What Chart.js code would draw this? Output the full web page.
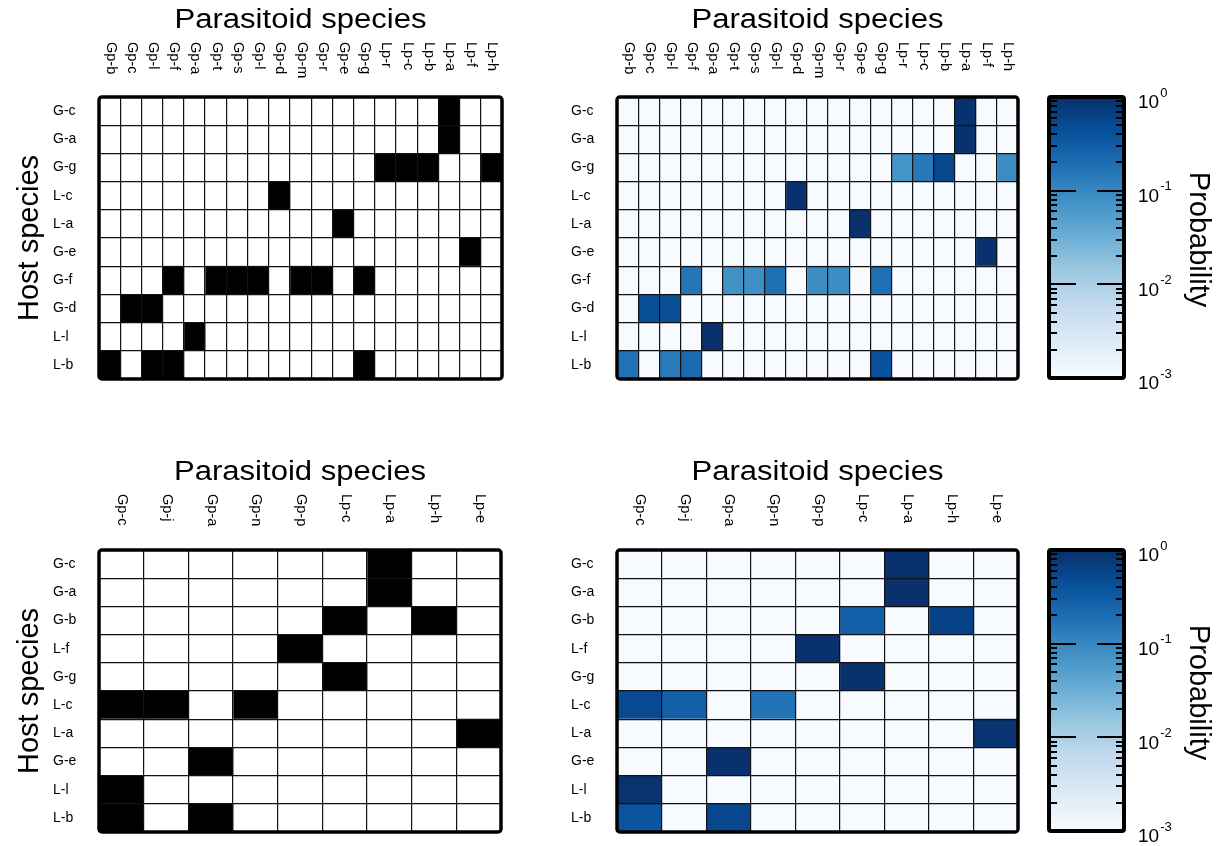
<!DOCTYPE html>
<html>
<head>
<meta charset="utf-8">
<script src="https://cdn.jsdelivr.net/npm/chart.js@4.4.1/dist/chart.umd.min.js"></script>
<style>
html, body { margin: 0; padding: 0; background: #fff; }
#wrap { position: relative; width: 1228px; height: 846px; overflow: hidden; }
#wrap canvas { position: absolute; left: 0; top: 0; }
</style>
</head>
<body>
<div id="wrap">
  <canvas id="tl" width="1228" height="846"></canvas>
  <canvas id="tr" width="1228" height="846"></canvas>
  <canvas id="bl" width="1228" height="846"></canvas>
  <canvas id="br" width="1228" height="846"></canvas>
  <canvas id="cbt" width="1228" height="846"></canvas>
  <canvas id="cbb" width="1228" height="846"></canvas>
</div>
<script>
// ---------- DATA ----------
const topCols = ['Gp-b','Gp-c','Gp-l','Gp-f','Gp-a','Gp-t','Gp-s','Gp-l','Gp-d','Gp-m','Gp-r','Gp-e','Gp-g','Lp-r','Lp-c','Lp-b','Lp-a','Lp-f','Lp-h'];
const topRows = ['G-c','G-a','G-g','L-c','L-a','G-e','G-f','G-d','L-l','L-b'];
const topObserved = [
  [0,0,0,0,0,0,0,0,0,0,0,0,0,0,0,0,1,0,0],
  [0,0,0,0,0,0,0,0,0,0,0,0,0,0,0,0,1,0,0],
  [0,0,0,0,0,0,0,0,0,0,0,0,0,1,1,1,0,0,1],
  [0,0,0,0,0,0,0,0,1,0,0,0,0,0,0,0,0,0,0],
  [0,0,0,0,0,0,0,0,0,0,0,1,0,0,0,0,0,0,0],
  [0,0,0,0,0,0,0,0,0,0,0,0,0,0,0,0,0,1,0],
  [0,0,0,1,0,1,1,1,0,1,1,0,1,0,0,0,0,0,0],
  [0,1,1,0,0,0,0,0,0,0,0,0,0,0,0,0,0,0,0],
  [0,0,0,0,1,0,0,0,0,0,0,0,0,0,0,0,0,0,0],
  [1,0,1,1,0,0,0,0,0,0,0,0,1,0,0,0,0,0,0]
];
const topProb = [
  [0,0,0,0,0,0,0,0,0,0,0,0,0,0,0,0,0.95,0,0],
  [0,0,0,0,0,0,0,0,0,0,0,0,0,0,0,0,0.95,0,0],
  [0,0,0,0,0,0,0,0,0,0,0,0,0,0.07,0.15,0.55,0,0,0.085],
  [0,0,0,0,0,0,0,0,0.97,0,0,0,0,0,0,0,0,0,0],
  [0,0,0,0,0,0,0,0,0,0,0,0.97,0,0,0,0,0,0,0],
  [0,0,0,0,0,0,0,0,0,0,0,0,0,0,0,0,0,0.97,0],
  [0,0,0,0.16,0,0.075,0.08,0.19,0,0.085,0.085,0,0.19,0,0,0,0,0,0],
  [0,0.45,0.45,0,0,0,0,0,0,0,0,0,0,0,0,0,0,0,0],
  [0,0,0,0,0.97,0,0,0,0,0,0,0,0,0,0,0,0,0,0],
  [0.18,0,0.14,0.22,0,0,0,0,0,0,0,0,0.42,0,0,0,0,0,0]
];
const botCols = ['Gp-c','Gp-j','Gp-a','Gp-n','Gp-p','Lp-c','Lp-a','Lp-h','Lp-e'];
const botRows = ['G-c','G-a','G-b','L-f','G-g','L-c','L-a','G-e','L-l','L-b'];
const botObserved = [
  [0,0,0,0,0,0,1,0,0],
  [0,0,0,0,0,0,1,0,0],
  [0,0,0,0,0,1,0,1,0],
  [0,0,0,0,1,0,0,0,0],
  [0,0,0,0,0,1,0,0,0],
  [1,1,0,1,0,0,0,0,0],
  [0,0,0,0,0,0,0,0,1],
  [0,0,1,0,0,0,0,0,0],
  [1,0,0,0,0,0,0,0,0],
  [1,0,1,0,0,0,0,0,0]
];
const botProb = [
  [0,0,0,0,0,0,0.97,0,0],
  [0,0,0,0,0,0,0.97,0,0],
  [0,0,0,0,0,0.28,0,0.62,0],
  [0,0,0,0,0.97,0,0,0,0],
  [0,0,0,0,0,0.95,0,0,0],
  [0.5,0.28,0,0.17,0,0,0,0,0],
  [0,0,0,0,0,0,0,0,0.9],
  [0,0,0.97,0,0,0,0,0,0],
  [0.92,0,0,0,0,0,0,0,0],
  [0.4,0,0.55,0,0,0,0,0,0]
];
const cbExponents = [0, -1, -2, -3];
const cbMin = 0.001, cbMax = 1;
const titleX = 'Parasitoid species';
const titleY = 'Host species';
const titleCb = 'Probability';

// ---------- STYLE HELPERS ----------
const FONT = "'Liberation Sans', Arial, Helvetica, sans-serif";
Chart.defaults.font.family = FONT;
const BLUES = ['#f7fbff','#deebf7','#c6dbef','#9ecae1','#6baed6','#4292c6','#2171b5','#08519c','#08306b'];
function hex2rgb(h){ return [parseInt(h.slice(1,3),16),parseInt(h.slice(3,5),16),parseInt(h.slice(5,7),16)]; }
function blues(t){
  t = Math.max(0, Math.min(1, t));
  const x = t * 8, i = Math.min(7, Math.floor(x)), f = x - i;
  const a = hex2rgb(BLUES[i]), b = hex2rgb(BLUES[i+1]);
  const c = a.map((v,k)=>Math.round(v + (b[k]-v)*f));
  return `rgb(${c[0]},${c[1]},${c[2]})`;
}
function probColor(p){
  if (!p || p <= cbMin) return blues(0);
  return blues((Math.log10(p) - Math.log10(cbMin)) / (Math.log10(cbMax) - Math.log10(cbMin)));
}
const binColor = v => v ? '#000000' : '#ffffff';

// ---------- PLUGINS ----------
const decor = {
  id: 'decor',
  afterDraw(chart, args, o) {
    const {ctx, chartArea: a, scales: {x}} = chart;
    ctx.save();
    ctx.fillStyle = '#000';
    ctx.font = `14.5px ${FONT}`;
    ctx.textAlign = 'left';
    ctx.textBaseline = 'middle';
    o.cols.forEach((c, i) => {
      const px = x.getPixelForValue(i + 0.5);
      ctx.save();
      ctx.translate(px + 1, o.colTop);
      ctx.rotate(Math.PI / 2);
      ctx.fillText(c, 0, 0);
      ctx.restore();
    });
    ctx.font = `27px ${FONT}`;
    ctx.textAlign = 'center';
    ctx.textBaseline = 'middle';
    ctx.save();
    ctx.translate((a.left + a.right) / 2, o.titleY);
    ctx.scale(1.15, 1);
    ctx.fillText(titleX, 0, 0);
    ctx.restore();
    if (o.yTitle) {
      ctx.font = `29px ${FONT}`;
      ctx.save();
      ctx.translate(o.yTitleX, (a.top + a.bottom) / 2);
      ctx.rotate(-Math.PI / 2);
      ctx.fillText(titleY, 0, 0);
      ctx.restore();
    }
    ctx.lineWidth = 3.5;
    ctx.strokeStyle = '#000';
    ctx.beginPath();
    ctx.roundRect(a.left, a.top, a.right - a.left, a.bottom - a.top, 3);
    ctx.stroke();
    ctx.restore();
  }
};

const cbar = {
  id: 'cbar',
  afterDraw(chart, args, o) {
    const {ctx, chartArea: a, scales: {y}} = chart;
    ctx.save();
    ctx.strokeStyle = '#000';
    ctx.lineWidth = 2;
    const tick = (v, len) => {
      const py = Math.round(y.getPixelForValue(v));
      ctx.beginPath();
      ctx.moveTo(a.left, py); ctx.lineTo(a.left + len, py);
      ctx.moveTo(a.right - len, py); ctx.lineTo(a.right, py);
      ctx.stroke();
    };
    for (let e = cbExponents[cbExponents.length - 1]; e < cbExponents[0]; e++) {
      for (let m = 2; m <= 9; m++) tick(m * Math.pow(10, e), 8);
    }
    cbExponents.forEach(e => { if (e !== 0 && e !== -3) tick(Math.pow(10, e), 27); });
    ctx.lineWidth = 4;
    ctx.beginPath();
    ctx.roundRect(a.left, a.top, a.right - a.left, a.bottom - a.top, 2);
    ctx.stroke();
    ctx.fillStyle = '#000';
    ctx.textAlign = 'left';
    ctx.textBaseline = 'middle';
    cbExponents.forEach(e => {
      const py = y.getPixelForValue(Math.pow(10, e));
      ctx.font = `19px ${FONT}`;
      const x0 = a.right + 14;
      ctx.fillText('10', x0, py + 6);
      const w = ctx.measureText('10').width;
      ctx.font = `13px ${FONT}`;
      ctx.fillText(String(e), x0 + w + 1, py - 4);
    });
    ctx.font = `29px ${FONT}`;
    ctx.textAlign = 'center';
    ctx.save();
    ctx.translate(a.right + 74, (a.top + a.bottom) / 2 + 2);
    ctx.rotate(Math.PI / 2);
    ctx.fillText(titleCb, 0, 0);
    ctx.restore();
    ctx.restore();
  }
};

// ---------- CHART BUILDERS ----------
function matrixChart(id, rows, cols, colorOf, values, box, extra) {
  const datasets = cols.map((c, j) => ({
    label: c,
    data: rows.map(() => [j, j + 1]),
    backgroundColor: rows.map((r, i) => colorOf(values[i][j])),
    borderWidth: 0,
    barPercentage: 1,
    categoryPercentage: 1,
    grouped: false
  }));
  return new Chart(document.getElementById(id), {
    type: 'bar',
    data: { labels: rows, datasets },
    plugins: [decor],
    options: {
      indexAxis: 'y',
      responsive: false,
      devicePixelRatio: 1,
      animation: false,
      events: [],
      layout: { padding: { left: box.left - 46, right: 1228 - box.right, top: box.top, bottom: 846 - box.bottom } },
      scales: {
        y: {
          type: 'category', offset: true,
          grid: { offset: true, color: '#111', lineWidth: 1.2, drawTicks: false, z: 1 },
          border: { display: false },
          ticks: { crossAlign: 'far', color: '#000', padding: 0, font: { size: 14, family: FONT } },
          afterFit: s => { s.width = 46; }
        },
        x: {
          type: 'linear', position: 'top', min: 0, max: cols.length,
          grid: { color: '#111', lineWidth: 1.2, drawTicks: false, z: 1 },
          border: { display: false },
          ticks: { display: false },
          afterBuildTicks: s => { s.ticks = cols.map((c, i) => ({ value: i })).concat([{ value: cols.length }]); },
          afterFit: s => { s.height = 0; }
        }
      },
      plugins: {
        legend: { display: false },
        tooltip: { enabled: false },
        decor: Object.assign({ cols }, extra)
      }
    }
  });
}

function colorbarChart(id, box) {
  return new Chart(document.getElementById(id), {
    type: 'bar',
    data: {
      labels: [titleCb],
      datasets: [{
        data: [[cbMin, cbMax]],
        backgroundColor: (c) => {
          const a = c.chart.chartArea;
          if (!a) return BLUES[0];
          const g = c.chart.ctx.createLinearGradient(0, a.bottom, 0, a.top);
          for (let i = 0; i <= 32; i++) g.addColorStop(i / 32, blues(i / 32));
          return g;
        },
        borderWidth: 0,
        barPercentage: 1,
        categoryPercentage: 1
      }]
    },
    plugins: [cbar],
    options: {
      responsive: false,
      devicePixelRatio: 1,
      animation: false,
      events: [],
      layout: { padding: { left: box.left, right: 1228 - box.right, top: box.top, bottom: 846 - box.bottom } },
      scales: {
        x: { display: false },
        y: {
          type: 'logarithmic', min: cbMin, max: cbMax, position: 'right',
          grid: { display: false }, border: { display: false },
          ticks: { display: false },
          afterFit: s => { s.width = 0; }
        }
      },
      plugins: { legend: { display: false }, tooltip: { enabled: false } }
    }
  });
}

matrixChart('tl', topRows, topCols, binColor, topObserved,
  { left: 99, right: 502, top: 97, bottom: 379 },
  { colTop: 42, titleY: 21, yTitle: true, yTitleX: 30 });
matrixChart('tr', topRows, topCols, probColor, topProb,
  { left: 617, right: 1018, top: 97, bottom: 379 },
  { colTop: 42, titleY: 21, yTitle: false });
matrixChart('bl', botRows, botCols, binColor, botObserved,
  { left: 99, right: 501, top: 550, bottom: 832 },
  { colTop: 494, titleY: 473, yTitle: true, yTitleX: 30 });
matrixChart('br', botRows, botCols, probColor, botProb,
  { left: 617, right: 1018, top: 550, bottom: 832 },
  { colTop: 494, titleY: 473, yTitle: false });
colorbarChart('cbt', { left: 1049, right: 1124, top: 97, bottom: 378 });
colorbarChart('cbb', { left: 1049, right: 1124, top: 550, bottom: 831 });
</script>
</body>
</html>
